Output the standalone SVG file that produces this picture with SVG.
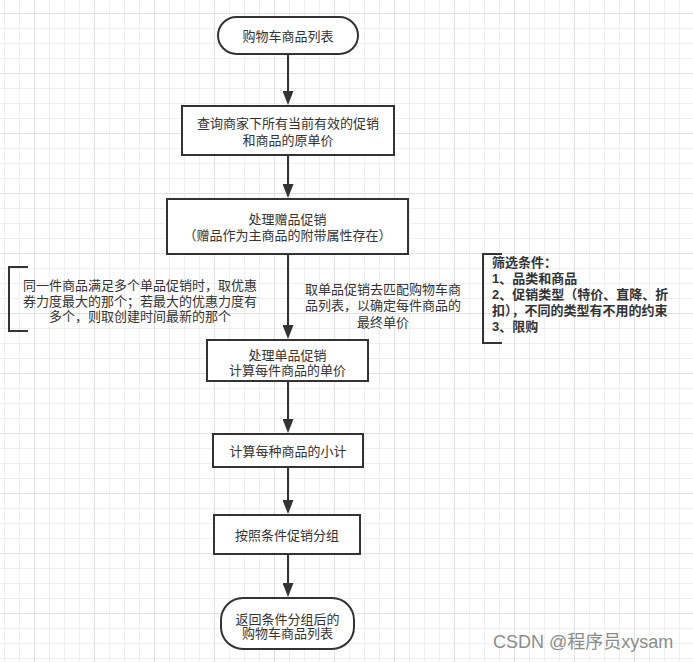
<svg xmlns="http://www.w3.org/2000/svg" width="693" height="662" viewBox="0 0 693 662">
  <defs>
    <pattern id="grid" patternUnits="userSpaceOnUse" x="34" y="13" width="60" height="60">
      <rect x="0" y="0" width="60" height="60" fill="#ffffff"/>
      <rect x="15" y="0" width="1" height="60" fill="#efefef"/>
      <rect x="30" y="0" width="1" height="60" fill="#efefef"/>
      <rect x="45" y="0" width="1" height="60" fill="#efefef"/>
      <rect x="0" y="15" width="60" height="1" fill="#efefef"/>
      <rect x="0" y="30" width="60" height="1" fill="#efefef"/>
      <rect x="0" y="45" width="60" height="1" fill="#efefef"/>
      <rect x="0" y="0" width="1" height="60" fill="#e1e1e1"/>
      <rect x="0" y="0" width="60" height="1" fill="#e1e1e1"/>
    </pattern>
    <marker id="arrow" markerUnits="userSpaceOnUse" markerWidth="14" markerHeight="11" refX="6" refY="5.5" orient="auto">
      <path d="M0,0 L14,5.5 L0,11 z" fill="#333333"/>
    </marker>
  </defs>
  <style>
    .box { fill: #ffffff; stroke: #333333; stroke-width: 2; }
    .t { font-family: "Liberation Sans", "Noto Sans CJK SC", sans-serif; font-size: 13px; fill: #333333; text-anchor: middle; }
    .b { font-family: "Liberation Sans", "Noto Sans CJK SC", sans-serif; font-size: 13px; font-weight: bold; fill: #333333; }
    .edge { stroke: #333333; stroke-width: 2; fill: none; marker-end: url(#arrow); }
    .brk { stroke: #333333; stroke-width: 2; fill: none; }
    .wm { font-family: "Liberation Sans", "Noto Sans CJK SC", sans-serif; font-size: 18px; fill: #8c8c8c; }
  </style>
  <rect x="0" y="0" width="693" height="662" fill="url(#grid)"/>

  <g id="connectors">
    <line class="edge" x1="288" y1="54" x2="288" y2="97"/>
    <line class="edge" x1="288" y1="155" x2="288" y2="190"/>
    <line class="edge" x1="288" y1="254" x2="288" y2="331"/>
    <line class="edge" x1="288" y1="381" x2="288" y2="425"/>
    <line class="edge" x1="288" y1="467" x2="288" y2="506"/>
    <line class="edge" x1="288" y1="554" x2="288" y2="589"/>
  </g>

  <g id="n1">
    <rect class="box" x="218" y="17" width="140" height="37" rx="18.5" ry="18.5"/>
    <text class="t" x="288" y="41">购物车商品列表</text>
  </g>
  <g id="n2">
    <rect class="box" x="182" y="106" width="212" height="49"/>
    <text class="t" x="288" y="128">查询商家下所有当前有效的促销</text>
    <text class="t" x="288" y="144.5">和商品的原单价</text>
  </g>
  <g id="n3">
    <rect class="box" x="167" y="199" width="241" height="55"/>
    <text class="t" x="287.5" y="224">处理赠品促销</text>
    <text class="t" x="287.5" y="239.5">（赠品作为主商品的附带属性存在）</text>
  </g>
  <g id="n4">
    <rect class="box" x="207" y="340" width="161" height="41"/>
    <text class="t" x="287.5" y="359.5">处理单品促销</text>
    <text class="t" x="287.5" y="375">计算每件商品的单价</text>
  </g>
  <g id="n5">
    <rect class="box" x="213" y="434" width="150" height="33"/>
    <text class="t" x="288" y="456">计算每种商品的小计</text>
  </g>
  <g id="n6">
    <rect class="box" x="214" y="515" width="146" height="39"/>
    <text class="t" x="287" y="540">按照条件促销分组</text>
  </g>
  <g id="n7">
    <rect class="box" x="221" y="598" width="133" height="51" rx="22" ry="22"/>
    <text class="t" x="287.5" y="623.5">返回条件分组后的</text>
    <text class="t" x="287.5" y="638">购物车商品列表</text>
  </g>

  <g id="note-left">
    <path class="brk" d="M28,267 H9 V331 H28"/>
    <text class="t" x="140" y="289.5">同一件商品满足多个单品促销时，取优惠</text>
    <text class="t" x="140" y="305.5">券力度最大的那个；若最大的优惠力度有</text>
    <text class="t" x="140" y="321">多个，则取创建时间最新的那个</text>
  </g>

  <g id="note-middle">
    <text class="t" x="383" y="293.5">取单品促销去匹配购物车商</text>
    <text class="t" x="383" y="310">品列表，以确定每件商品的</text>
    <text class="t" x="383" y="326.5">最终单价</text>
  </g>

  <g id="note-right">
    <path class="brk" d="M502,254 H483 V343 H502"/>
    <text class="b" x="492" y="266.5">筛选条件：</text>
    <text class="b" x="492" y="282.5">1、品类和商品</text>
    <text class="b" x="492" y="299">2、促销类型（特价、直降、折</text>
    <text class="b" x="492" y="315">扣），不同的类型有不用的约束</text>
    <text class="b" x="492" y="331">3、限购</text>
  </g>

  <text class="wm" x="493" y="648">CSDN @程序员xysam</text>
</svg>
